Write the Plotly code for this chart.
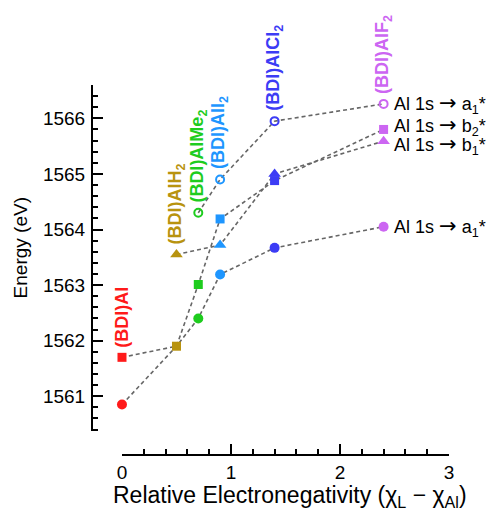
import plotly.graph_objects as go

# ---------------- data ----------------
compounds = ["(BDI)Al", "(BDI)AlH<sub>2</sub>", "(BDI)AlMe<sub>2</sub>",
             "(BDI)AlI<sub>2</sub>", "(BDI)AlCl<sub>2</sub>", "(BDI)AlF<sub>2</sub>"]
chi = [0.0, 0.5, 0.7, 0.9, 1.4, 2.4]
colors = ["#ff1a1a", "#b8930f", "#1ecc1e", "#1e96ff", "#3c3cf5", "#cc66f2"]

a1_upper = [None, None, 1564.30, 1564.90, 1565.95, 1566.26]
b2 = [1561.70, 1561.90, 1563.01, 1564.19, 1564.88, 1565.80]
b1 = [None, 1563.55, None, 1563.72, 1565.00, 1565.59]
a1_lower = [1560.85, 1561.90, 1562.40, 1563.19, 1563.67, 1564.05]
a1_lower_marker = [True, False, True, True, True, True]  # at 0.5 it coincides with the square

ARROW = '<span style="font-family:DejaVu Sans;font-size:21px">\u2192</span>'
transition_labels = ["Al 1s " + ARROW + " a<sub>1</sub>*", "Al 1s " + ARROW + " b<sub>2</sub>*",
                     "Al 1s " + ARROW + " b<sub>1</sub>*", "Al 1s " + ARROW + " a<sub>1</sub>*"]

x_ticks = [0, 1, 2, 3]
y_ticks = [1561, 1562, 1563, 1564, 1565, 1566]

# ---------------- figure ----------------
FONT = "Liberation Sans, Arial, Helvetica, sans-serif"
series = [
    (a1_upper, "circle-open", 8, [True] * 6),
    (b2, "square", 9, [True] * 6),
    (b1, "triangle-up", 11, [True] * 6),
    (a1_lower, "circle", 10, a1_lower_marker),
]

fig = go.Figure()
for vals, sym, size, mask in series:
    fig.add_trace(go.Scatter(
        x=chi, y=vals, mode="lines", connectgaps=True,
        line=dict(color="#666666", width=1.6, dash="4px,3px"),
        hoverinfo="skip", showlegend=False))

for vals, sym, size, mask in series:
    xs, ys, cs = [], [], []
    for xv, yv, c, m in zip(chi, vals, colors, mask):
        if yv is not None and m:
            xs.append(xv); ys.append(yv); cs.append(c)
    if sym.endswith("open"):
        marker = dict(symbol=sym, size=size, color=cs, line=dict(color=cs, width=2))
    else:
        marker = dict(symbol=sym, size=size, color=cs, line=dict(width=0))
    fig.add_trace(go.Scatter(x=xs, y=ys, mode="markers", marker=marker,
                             cliponaxis=False, showlegend=False))

# compound labels (rotated, above top point)
for name, xv, c, i in zip(compounds, chi, colors, range(6)):
    vals = [s[0][i] for s in series if s[0][i] is not None]
    top = max(vals)
    fig.add_annotation(x=xv, y=top, text=name, textangle=-90, showarrow=False,
                       xanchor="center", yanchor="bottom", yshift=8,
                       font=dict(family=FONT, size=18, color=c, weight="bold"))

# transition labels at the right
right_vals = [a1_upper[-1], b2[-1], b1[-1], a1_lower[-1]]
right_shift = [0, 3, -4, 0]
for txt, yv, ys in zip(transition_labels, right_vals, right_shift):
    fig.add_annotation(x=chi[-1], y=yv, text=txt, showarrow=False,
                       xanchor="left", yanchor="middle", xshift=8, yshift=ys,
                       font=dict(family=FONT, size=18, color="black"))

# axis titles
fig.add_annotation(x=0.555, xref="paper", y=-0.113, yref="paper",
                   text="Relative Electronegativity (\u03c7<sub>L</sub> \u2212 \u03c7<sub>Al</sub>)",
                   showarrow=False, xanchor="center", yanchor="middle",
                   font=dict(family=FONT, size=23, color="black"))
fig.add_annotation(x=-0.2, xref="paper", y=0.56, yref="paper",
                   text="Energy (eV)", textangle=-90, showarrow=False,
                   xanchor="center", yanchor="middle",
                   font=dict(family=FONT, size=19, color="black"))

axis_common = dict(showline=True, linecolor="black", linewidth=2, showgrid=False,
                   zeroline=False, ticks="inside", ticklen=10, tickwidth=2,
                   tickcolor="black", tickfont=dict(family=FONT, size=19, color="black"),
                   minor=dict(ticks="inside", ticklen=5, tickwidth=1.5, dtick=0.2,
                              tickcolor="black", showgrid=False))

fig.update_xaxes(range=[0, 3], domain=[0.084, 1], anchor="free", position=0,
                 tickvals=x_ticks, ticktext=[str(v) for v in x_ticks], **axis_common)
fig.update_yaxes(range=[1560.38, 1566.6], domain=[0.0657, 1], anchor="free", position=0,
                 tickvals=y_ticks, ticktext=[str(v) for v in y_ticks],
                 ticklabelstandoff=2, **axis_common)

fig.update_layout(width=491, height=512, margin=dict(l=92, r=42, t=85, b=57),
                  plot_bgcolor="white", paper_bgcolor="white",
                  font=dict(family=FONT, size=18, color="black"), showlegend=False)

fig.write_html("out.html", config={"displayModeBar": False},
               post_script="document.body.style.margin='0px';document.body.style.overflow='hidden';")
